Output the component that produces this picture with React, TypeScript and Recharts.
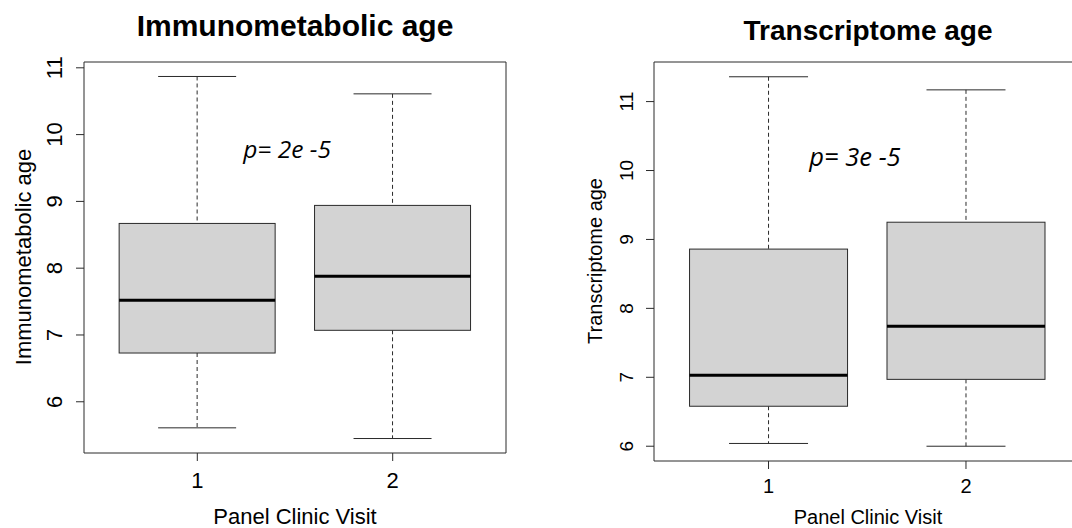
import { BarChart, Bar, XAxis, YAxis } from "recharts";

// visits on the x axis
const visits = ["1", "2"];
const yTicks = [6, 7, 8, 9, 10, 11];

// Immunometabolic age, per visit
const immunoMin = [5.61, 5.45];
const immunoQ1 = [6.73, 7.07];
const immunoMedian = [7.52, 7.88];
const immunoQ3 = [8.67, 8.94];
const immunoMax = [10.87, 10.61];

// Transcriptome age, per visit
const transMin = [6.04, 6.0];
const transQ1 = [6.58, 6.97];
const transMedian = [7.03, 7.74];
const transQ3 = [8.86, 9.25];
const transMax = [11.36, 11.17];

type Row = { visit: string; min: number; q1: number; median: number; q3: number; max: number };

function buildRows(mins: number[], q1s: number[], meds: number[], q3s: number[], maxs: number[]): Row[] {
  return visits.map((v, i) => ({ visit: v, min: mins[i], q1: q1s[i], median: meds[i], q3: q3s[i], max: maxs[i] }));
}

// R style ylim: data range widened by 4% on each side
function rDomain(rows: Row[]): [number, number] {
  const lo = Math.min(...rows.map((r) => r.min));
  const hi = Math.max(...rows.map((r) => r.max));
  const e = (hi - lo) * 0.04;
  return [lo - e, hi + e];
}

const LINE = "#2a2a2a";
const FONT = "'Liberation Sans', Arial, sans-serif";

function BoxShape(props: any) {
  const { x, y, width, height, payload } = props;
  const top = Math.min(y, y + height);
  const bottom = Math.max(y, y + height);
  const span = payload.max - payload.min;
  const py = (v: number) => top + ((payload.max - v) / span) * (bottom - top);
  const cx = x + width / 2;
  const cap = width / 4;
  return (
    <g>
      <line x1={cx} x2={cx} y1={py(payload.max)} y2={py(payload.q3)} stroke={LINE} strokeDasharray="4 3" />
      <line x1={cx} x2={cx} y1={py(payload.q1)} y2={py(payload.min)} stroke={LINE} strokeDasharray="4 3" />
      <line x1={cx - cap} x2={cx + cap} y1={py(payload.max)} y2={py(payload.max)} stroke={LINE} />
      <line x1={cx - cap} x2={cx + cap} y1={py(payload.min)} y2={py(payload.min)} stroke={LINE} />
      <rect x={x} y={py(payload.q3)} width={width} height={py(payload.q1) - py(payload.q3)} fill="#d3d3d3" stroke={LINE} />
      <line x1={x} x2={x + width} y1={py(payload.median)} y2={py(payload.median)} stroke="#000" strokeWidth={3} />
    </g>
  );
}

type Layout = {
  left: number;
  width: number;
  top: number;
  bottom: number;
  right: number;
  yAxisWidth: number;
  pad: number;
  tickLabelX: number;
  yLabelX: number;
  yLabelY: number;
  titleX: number;
  titleY: number;
  titleSize: number;
  tickFont: number;
  xTickFont: number;
  labelFont: number;
  xTickY: number;
  xLabelY: number;
  pX: number;
  pY: number;
  pSize: number;
};

type PanelProps = { title: string; yLabel: string; pText: string; rows: Row[]; lay: Layout };

function BoxPanel({ title, yLabel, pText, rows, lay }: PanelProps) {
  const domain = rDomain(rows);
  return (
    <div style={{ position: "absolute", left: lay.left, top: 0 }}>
      <BarChart
        width={lay.width}
        height={528}
        data={rows}
        barCategoryGap="10%"
        margin={{ top: lay.top - 1, bottom: 0, left: 0, right: lay.right - 1 }}
      >
        <XAxis
          dataKey="visit"
          padding={{ left: lay.pad, right: lay.pad }}
          tickSize={8}
          axisLine={{ stroke: LINE }}
          tickLine={{ stroke: LINE }}
          height={lay.bottom}
          tick={(p: any) => (
            <text x={p.x} y={lay.xTickY} textAnchor="middle" dominantBaseline="central" fontSize={lay.xTickFont} fontFamily={FONT} fill="#000">
              {p.payload.value}
            </text>
          )}
        />
        <XAxis xAxisId="top" orientation="top" dataKey="visit" height={1} tick={false} tickLine={false} axisLine={{ stroke: LINE }} />
        <YAxis
          type="number"
          domain={domain}
          allowDataOverflow
          ticks={yTicks}
          width={lay.yAxisWidth}
          tickSize={8}
          axisLine={{ stroke: LINE }}
          tickLine={{ stroke: LINE }}
          tick={(p: any) => (
            <text
              x={lay.tickLabelX}
              y={p.y}
              transform={`rotate(-90, ${lay.tickLabelX}, ${p.y})`}
              textAnchor="middle"
              dominantBaseline="central"
              fontSize={lay.tickFont}
              fontFamily={FONT}
              fill="#000"
            >
              {p.payload.value}
            </text>
          )}
        />
        <YAxis yAxisId="r" orientation="right" type="number" domain={domain} allowDataOverflow width={1} tick={false} tickLine={false} axisLine={{ stroke: LINE }} />
        <Bar dataKey={(d: Row) => [d.min, d.max]} shape={BoxShape} isAnimationActive={false} />
        <text x={lay.titleX} y={lay.titleY} textAnchor="middle" dominantBaseline="central" fontSize={lay.titleSize} fontWeight="bold" fontFamily={FONT} fill="#000">
          {title}
        </text>
        <text
          x={lay.yLabelX}
          y={lay.yLabelY}
          transform={`rotate(-90, ${lay.yLabelX}, ${lay.yLabelY})`}
          textAnchor="middle"
          dominantBaseline="central"
          fontSize={lay.labelFont}
          fontFamily={FONT}
          fill="#000"
        >
          {yLabel}
        </text>
        <text x={lay.titleX} y={lay.xLabelY} textAnchor="middle" dominantBaseline="central" fontSize={lay.labelFont} fontFamily={FONT} fill="#000">
          Panel Clinic Visit
        </text>
        <text x={lay.pX} y={lay.pY} textAnchor="middle" fontSize={lay.pSize} fontStyle="italic" fontFamily="'Open Sans', sans-serif" fill="#000">
          {pText}
        </text>
      </BarChart>
    </div>
  );
}

const leftLayout: Layout = {
  left: 0,
  width: 530,
  top: 62,
  bottom: 75,
  right: 24,
  yAxisWidth: 84,
  pad: 15.6,
  tickLabelX: 55,
  yLabelX: 23,
  yLabelY: 257,
  titleX: 295,
  titleY: 25,
  titleSize: 30,
  tickFont: 22,
  xTickFont: 22,
  labelFont: 22,
  xTickY: 480,
  xLabelY: 516,
  pX: 287,
  pY: 158,
  pSize: 24.5,
};

const rightLayout: Layout = {
  left: 560,
  width: 540,
  top: 62,
  bottom: 67,
  right: 19.5,
  yAxisWidth: 94,
  pad: 15.8,
  tickLabelX: 67,
  yLabelX: 35,
  yLabelY: 261,
  titleX: 308,
  titleY: 30,
  titleSize: 28,
  tickFont: 19,
  xTickFont: 20,
  labelFont: 20,
  xTickY: 486,
  xLabelY: 517,
  pX: 295,
  pY: 166,
  pSize: 25.5,
};

export default function App() {
  const immunoRows = buildRows(immunoMin, immunoQ1, immunoMedian, immunoQ3, immunoMax);
  const transRows = buildRows(transMin, transQ1, transMedian, transQ3, transMax);
  return (
    <div style={{ position: "fixed", left: 0, top: 0, width: 1072, height: 528, overflow: "hidden", background: "#fff" }}>
      <BoxPanel title="Immunometabolic age" yLabel="Immunometabolic age" pText="p= 2e -5" rows={immunoRows} lay={leftLayout} />
      <BoxPanel title="Transcriptome age" yLabel="Transcriptome age" pText="p= 3e -5" rows={transRows} lay={rightLayout} />
    </div>
  );
}
